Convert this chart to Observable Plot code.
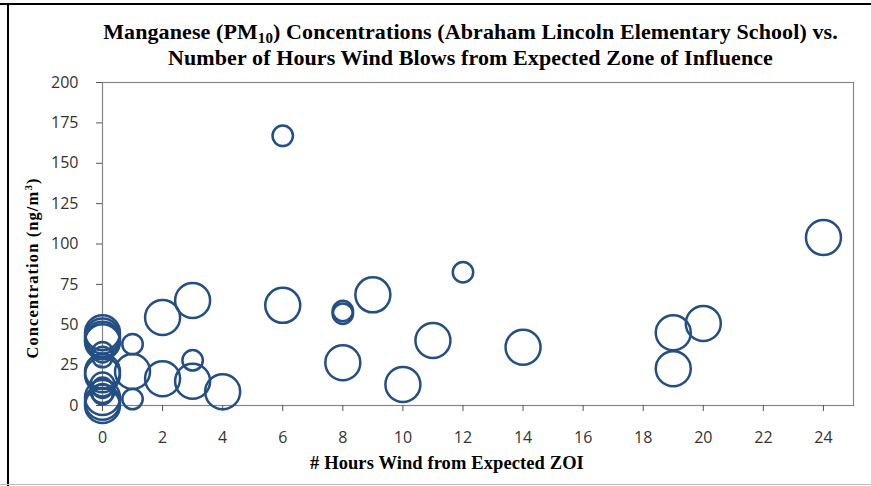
<!DOCTYPE html>
<html>
<head>
<meta charset="utf-8">
<script src="https://cdn.jsdelivr.net/npm/d3@7"></script>
<script src="https://cdn.jsdelivr.net/npm/@observablehq/plot@0.6"></script>
<style>
  body { margin: 0; background: #fff; }
  #wrap { position: relative; width: 871px; height: 486px; overflow: hidden; background: #fff; }
  #chart { position: absolute; left: 0; top: 0; }
  .serif { font-family: "Liberation Serif", "Times New Roman", serif; font-weight: bold; color: #000; white-space: nowrap; line-height: 1; }
  .title { position: absolute; left: 0; width: 871px; text-align: center; font-size: 22px; letter-spacing: 0.1px; }
  .title sub { font-size: 15px; vertical-align: -4px; line-height: 0; }
  #ylab { position: absolute; left: 33px; top: 268px; font-size: 16.5px; transform: translate(-50%, -50%) rotate(-90deg); letter-spacing: 1.1px; }
  #ylab sup { font-size: 11px; vertical-align: 6px; line-height: 0; }
  #xlab { position: absolute; left: 447px; top: 454px; font-size: 18.5px; transform: translateX(-50%); letter-spacing: 0.1px; }
  .bl { position: absolute; background: #000; }
</style>
</head>
<body>
<div id="wrap">
  <div class="bl" style="left:0;top:3px;width:871px;height:2px;"></div>
  <div class="bl" style="left:7px;top:3px;width:2px;height:483px;"></div>
  <div class="bl" style="left:0;top:484px;width:871px;height:1px;background:#bdbdbd;"></div>
  <div class="title serif" style="top:21px;left:35px;">Manganese (PM<sub>10</sub>) Concentrations (Abraham Lincoln Elementary School) vs.</div>
  <div class="title serif" style="top:46.5px;left:35px;">Number of Hours Wind Blows from Expected Zone of Influence</div>
  <div id="ylab" class="serif">Concentration (ng/m<sup>3</sup>)</div>
  <div id="xlab" class="serif"># Hours Wind from Expected ZOI</div>
</div>
<script>
// Number of hours wind blows from expected zone of influence
const hours = [
  0, 0, 0, 0, 0, 0, 0, 0, 0, 0, 0, 0, 0, 0, 0,
  1, 1, 1,
  2, 2,
  3, 3, 3,
  4,
  6, 6,
  8, 8, 8,
  9, 10, 11, 12, 14,
  19, 19, 20, 24
];
// Manganese (PM10) concentration, ng/m3
const concentration = [
  45, 43, 41, 39.5, 33, 30, 21, 19, 13, 11, 9, 7, 5, 2, 0,
  38, 21, 4,
  54.5, 16.5,
  65, 28, 15,
  8.5,
  167, 62,
  58.5, 56.8, 26.5,
  68.5, 13, 40.3, 82.5, 36,
  45, 22.7, 50.8, 104
];
// relative bubble size
const bubbleSize = [
  100, 100, 100, 100, 34, 34, 100, 100, 47, 34, 47, 34, 100, 100, 100,
  34, 100, 34,
  100, 100,
  100, 34, 100,
  100,
  34, 100,
  34, 34, 100,
  100, 100, 100, 34, 100,
  100, 100, 100, 100
];
const xTicks = [0, 2, 4, 6, 8, 10, 12, 14, 16, 18, 20, 22, 24];
const yTicks = [0, 25, 50, 75, 100, 125, 150, 175, 200];

const data = hours.map((h, i) => ({hours: h, conc: concentration[i], size: bubbleSize[i]}));

const chart = Plot.plot({
  width: 871,
  height: 486,
  marginTop: 82,
  marginBottom: 81,
  marginLeft: 102,
  marginRight: 18,
  style: {fontFamily: "'Open Sans', sans-serif", fontSize: "16px", background: "transparent", overflow: "visible"},
  x: {domain: [0, 25], label: null},
  y: {domain: [0, 200], label: null},
  r: {domain: [0, 100], range: [0, 17.5]},
  marks: [
    Plot.frame({stroke: "#868686", strokeWidth: 1.2}),
    Plot.axisX({ticks: xTicks, tickSize: 6, tickPadding: 20, stroke: "#555", fill: "#333", label: null}),
    Plot.axisY({ticks: yTicks, tickSize: 6, tickPadding: 18, stroke: "#555", fill: "#333", label: null}),
    Plot.dot(data, {x: "hours", y: "conc", r: "size", stroke: "#244f83", strokeWidth: 2.5, fill: "none"})
  ]
});
chart.id = "chart";
document.getElementById("wrap").prepend(chart);
</script>
</body>
</html>
